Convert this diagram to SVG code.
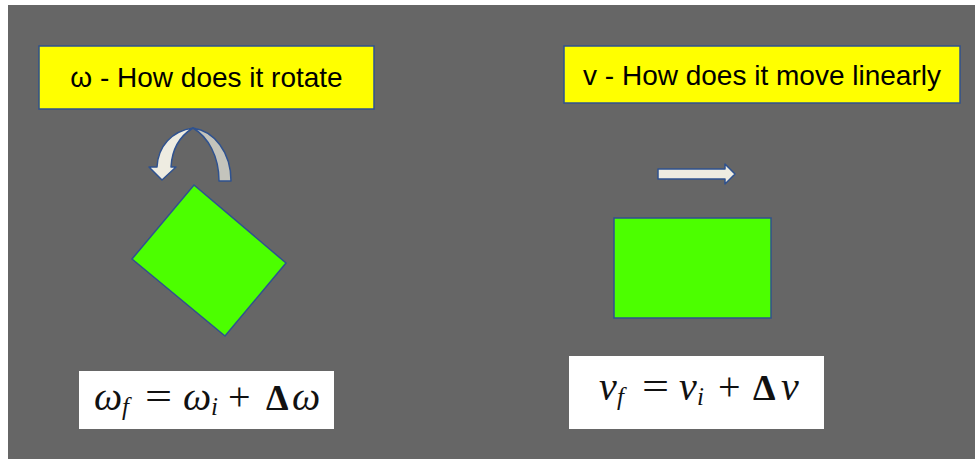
<svg xmlns="http://www.w3.org/2000/svg" width="975" height="459" viewBox="0 0 975 459">
<style>
.label{fill:#ffff00;stroke:#2f528f;stroke-width:1.5}
.lt{font-family:"Liberation Sans",Arial,sans-serif;font-size:28px;fill:#000;text-anchor:middle}
.shape{fill:#4cff00;stroke:#2f528f;stroke-width:1.5}
.arr{stroke:#2f528f;stroke-width:1.5;stroke-linejoin:round}
.fbox{fill:#ffffff}
.math{font-family:"Liberation Serif","Times New Roman",serif;font-size:36px;fill:#111}
.mi{font-style:italic;font-size:40px}
.op{font-size:40px}
.sub{font-style:italic;font-size:25px}
.dl{font-weight:bold}
</style>
<rect x="0" y="0" width="975" height="459" fill="#ffffff"/>
<rect x="8" y="5" width="967" height="454" fill="#666666"/>
<g id="label-omega">
<rect class="label" x="39" y="46" width="335" height="63"/>
<text class="lt" x="206.5" y="87">ω - How does it rotate</text>
</g>
<g id="label-v">
<rect class="label" x="564" y="46" width="396" height="57"/>
<text class="lt" x="762" y="85">v - How does it move linearly</text>
</g>
<g id="connectors">
<g id="curved-arrow">
<path class="arr" fill="#c4c4bc" d="M193,128 C214,131 231,152 231,181 L219,181 C219,156 208,137 193,128 Z"/>
<path class="arr" fill="#eeece1" d="M193,128 C172,131 158,146 157,167 L149,167 L162,180 L176,167 L171,167 C172,149 180,136 193,128 Z"/>
</g>
<path id="straight-arrow" class="arr" fill="#eeece1" d="M658,169 L725,169 L725,164 L735,174 L725,184 L725,179 L658,179 Z"/>
</g>
<g id="rotated-square">
<polygon class="shape" points="194,185 286,263 225,336 132,259"/>
</g>
<g id="rectangle">
<rect class="shape" x="614" y="218" width="157" height="100"/>
</g>
<g id="formula-omega">
<rect class="fbox" x="79" y="371" width="255" height="58"/>
<text class="math" y="410"><tspan class="mi" x="94">ω</tspan><tspan class="sub" x="122" y="415">f</tspan><tspan class="mi" x="183" y="410">ω</tspan><tspan class="sub" x="211" y="415">i</tspan><tspan class="op" x="228" y="410">+</tspan><tspan class="dl" x="266">Δ</tspan><tspan class="mi" x="292">ω</tspan></text>
<text class="math op" transform="translate(145,410) scale(1.2,1)">=</text>
</g>
<g id="formula-v">
<rect class="fbox" x="569" y="356" width="255" height="73"/>
<text class="math" y="400"><tspan class="mi" x="599">v</tspan><tspan class="sub" x="617" y="405">f</tspan><tspan class="mi" x="679" y="400">v</tspan><tspan class="sub" x="697" y="405">i</tspan><tspan class="op" x="718" y="400">+</tspan><tspan class="dl" x="753">Δ</tspan><tspan class="mi" x="781">v</tspan></text>
<text class="math op" transform="translate(642,400) scale(1.2,1)">=</text>
</g>
</svg>
